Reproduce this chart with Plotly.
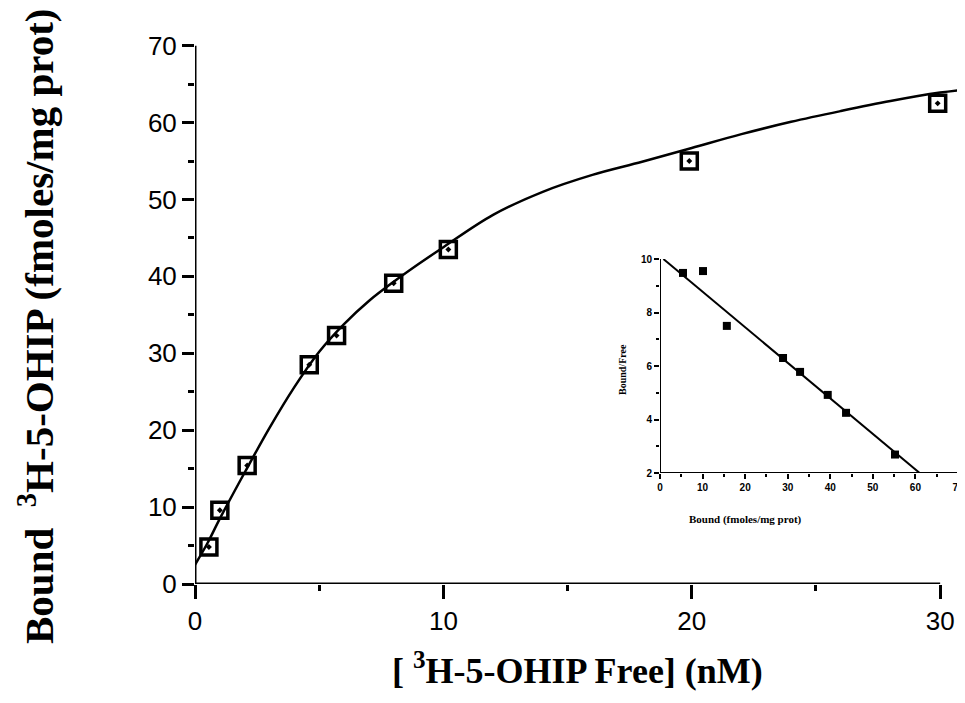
import plotly.graph_objects as go

# Main saturation data
free_nM = [0.56, 1.0, 2.1, 4.6, 5.7, 8.0, 10.2, 19.9, 29.9]
bound = [4.8, 9.6, 15.4, 28.5, 32.3, 39.1, 43.5, 55.0, 62.5]

# Fitted curve
curve_x = [0, 0.5, 1, 2, 3, 4, 5, 6, 7, 8, 9, 10, 12, 14, 16, 18, 20, 22, 24, 26, 28, 30, 31]
curve_y = [2.5, 5.3, 8.5, 14.5, 20.3, 25.6, 30.2, 33.8, 36.8, 39.3, 41.6, 43.8, 48.0, 51.0,
           53.2, 54.9, 56.7, 58.5, 60.1, 61.5, 62.8, 63.9, 64.3]

# Scatchard inset
sc_bound = [5.4, 10.1, 15.7, 28.9, 32.9, 39.4, 43.7, 55.2, 62.4]
sc_ratio = [9.48, 9.55, 7.5, 6.3, 5.78, 4.92, 4.25, 2.69, 1.96]
sc_line_x = [0.8, 61.0]
sc_line_y = [10.0, 2.0]

main_xticks = [0, 10, 20, 30]
main_yticks = [0, 10, 20, 30, 40, 50, 60, 70]
inset_xticks = [0, 10, 20, 30, 40, 50, 60, 70]
inset_yticks = [2, 4, 6, 8, 10]

fig = go.Figure()

fig.add_trace(go.Scatter(x=curve_x, y=curve_y, mode="lines", line_shape="spline",
                         line=dict(color="black", width=2.5), showlegend=False))
fig.add_trace(go.Scatter(x=free_nM, y=bound, mode="markers",
                         marker=dict(symbol="square-open-dot", size=16, color="black",
                                     line=dict(width=3.5, color="black")),
                         cliponaxis=False, showlegend=False))

fig.add_trace(go.Scatter(x=sc_line_x, y=sc_line_y, mode="lines",
                         line=dict(color="black", width=2), xaxis="x2", yaxis="y2",
                         showlegend=False))
fig.add_trace(go.Scatter(x=sc_bound, y=sc_ratio, mode="markers",
                         marker=dict(symbol="square", size=8, color="black"),
                         xaxis="x2", yaxis="y2", cliponaxis=False, showlegend=False))

# axis lines
fig.add_shape(type="line", xref="x", yref="y", x0=0, x1=0, y0=0, y1=70,
              line=dict(color="black", width=3))
fig.add_shape(type="line", xref="x", yref="y", x0=0, x1=30, y0=0, y1=0,
              line=dict(color="black", width=3))
fig.add_shape(type="line", xref="x2", yref="y2", x0=0, x1=0, y0=2, y1=10,
              line=dict(color="black", width=2))
fig.add_shape(type="line", xref="x2", yref="y2", x0=0, x1=70, y0=2, y1=2,
              line=dict(color="black", width=2))

tickfont_main = dict(family="Liberation Sans, Arial", size=26, color="black")
tickfont_inset = dict(family="Liberation Sans, Arial", size=10, color="black", weight="bold")

# page has an 8px body margin: plot area spans page px 195..965 horizontally, 38..584 vertically
fig.update_layout(
    width=957, height=695,
    margin=dict(l=187, r=0, t=30, b=119, autoexpand=False),
    paper_bgcolor="white", plot_bgcolor="white",
    xaxis=dict(range=[0, 31.0], showline=False, showgrid=False, zeroline=False,
               automargin=False,
               tickvals=main_xticks, ticks="outside", ticklen=14, tickwidth=3,
               tickcolor="black", tickfont=tickfont_main,
               minor=dict(tickvals=[5, 15, 25], ticks="outside", ticklen=6,
                          tickwidth=3, tickcolor="black")),
    yaxis=dict(range=[0, 71], showline=False, showgrid=False, zeroline=False,
               automargin=False,
               tickvals=main_yticks, ticks="outside", ticklen=12, tickwidth=3,
               tickcolor="black", tickfont=tickfont_main,
               minor=dict(tickvals=[5, 15, 25, 35, 45, 55, 65], ticks="outside",
                          ticklen=6, tickwidth=3, tickcolor="black")),
    xaxis2=dict(domain=[0.6039, 0.9909], anchor="y2", range=[0, 70],
                showline=False, showgrid=False, zeroline=False, automargin=False,
                tickvals=inset_xticks, ticks="outside", ticklen=5, tickwidth=1.5,
                tickcolor="black", tickfont=tickfont_inset,
                minor=dict(tickvals=[5, 15, 25, 35, 45, 55, 65], ticks="outside",
                           ticklen=3, tickwidth=1.5, tickcolor="black")),
    yaxis2=dict(domain=[0.2033, 0.5952], anchor="x2", range=[2, 10],
                showline=False, showgrid=False, zeroline=False, automargin=False,
                tickvals=inset_yticks, ticks="outside", ticklen=5, tickwidth=1.5,
                tickcolor="black", tickfont=tickfont_inset,
                minor=dict(tickvals=[3, 5, 7, 9], ticks="outside",
                           ticklen=3, tickwidth=1.5, tickcolor="black")),
    annotations=[
        dict(text="[ <sup>3</sup>H-5-OHIP Free] (nM)", xref="paper", yref="paper",
             x=(577 - 195) / 770, y=(584 - 668) / 546, showarrow=False,
             xanchor="center", yanchor="middle",
             font=dict(family="Liberation Serif, Times New Roman", size=36,
                       color="black", weight="bold")),
        dict(text="Bound  <sup>3</sup>H-5-OHIP (fmoles/mg prot)", xref="paper", yref="paper",
             x=(36 - 195) / 770, y=(584 - 327) / 546, showarrow=False, textangle=-90,
             xanchor="center", yanchor="middle",
             font=dict(family="Liberation Serif, Times New Roman", size=41,
                       color="black", weight="bold")),
        dict(text="Bound (fmoles/mg prot)", xref="paper", yref="paper",
             x=(745 - 195) / 770, y=(584 - 519) / 546, showarrow=False,
             xanchor="center", yanchor="middle",
             font=dict(family="Liberation Serif, Times New Roman", size=11,
                       color="black", weight="bold")),
        dict(text="Bound/Free", xref="paper", yref="paper",
             x=(622 - 195) / 770, y=(584 - 370) / 546, showarrow=False, textangle=-90,
             xanchor="center", yanchor="middle",
             font=dict(family="Liberation Serif, Times New Roman", size=10,
                       color="black", weight="bold")),
    ],
)

fig.write_html("out.html")
